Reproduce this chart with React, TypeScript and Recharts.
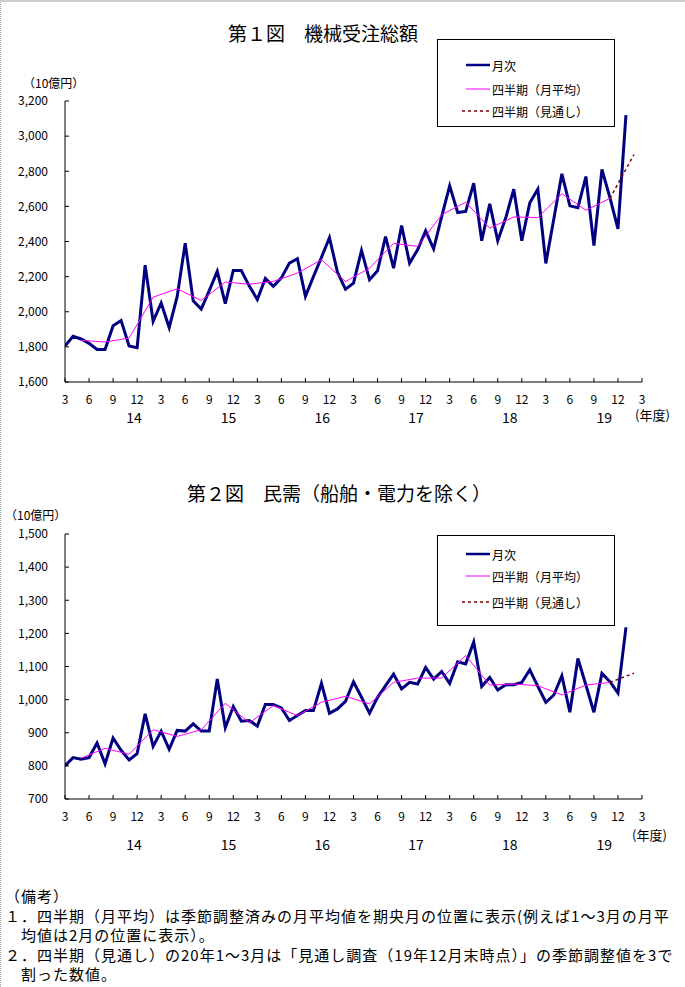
import { Legend, Line, LineChart, XAxis, YAxis } from "recharts";

const FONT = "'Noto Sans CJK JP', 'Noto Sans', sans-serif";

// x index: 0 = 2014年3月 ... 72 = 2020年3月
const monthTicks = [0, 3, 6, 9, 12, 15, 18, 21, 24, 27, 30, 33, 36, 39, 42, 45, 48, 51, 54, 57, 60, 63, 66, 69, 72];
const fiscalYears = ["14", "15", "16", "17", "18", "19"];
const fiscalYearPos = [8.6, 20.4, 32.1, 43.8, 55.5, 67.3];

const seriesNames = ["月次", "四半期（月平均）", "四半期（見通し）"];

const totalMonthly = [
  1805, 1860, 1845, 1820, 1785, 1785, 1920, 1950, 1805, 1795, 2265, 1945,
  2050, 1910, 2087, 2390, 2062, 2015, 2120, 2230, 2046, 2235, 2235, 2146,
  2070, 2190, 2145, 2193, 2277, 2302, 2088, 2200, 2310, 2422, 2225, 2128,
  2163, 2349, 2182, 2233, 2428, 2248, 2491, 2277, 2353, 2461, 2358, 2542,
  2717, 2565, 2571, 2732, 2404, 2614, 2404, 2535, 2698, 2404, 2620, 2698,
  2275, 2530, 2785, 2603, 2593, 2770, 2377, 2810, 2650, 2472, 3120
];
const totalQuarterly = [
  1837, 1828, 1850, 2083, 2131, 2064, 2169, 2157, 2173, 2220, 2296, 2172,
  2248, 2390, 2372, 2552, 2624, 2476, 2540, 2536, 2672, 2578, 2646
];
const totalOutlook = [2646, 2895];
const totalYTicks = [1600, 1800, 2000, 2200, 2400, 2600, 2800, 3000, 3200];

const privateMonthly = [
  800, 825, 820, 825, 869, 806, 884, 847, 818, 837, 957, 859,
  905, 850, 907, 905, 927, 905, 905, 1062, 915, 979, 935, 937,
  920, 985, 985, 975, 937, 952, 967, 967, 1049, 959, 972, 995,
  1054, 1007, 959, 1007, 1042, 1077, 1032, 1052, 1047, 1097, 1062, 1085,
  1049, 1114, 1108, 1174, 1040, 1067, 1029, 1045, 1045, 1052, 1090, 1040,
  992, 1014, 1072, 962, 1124, 1044, 962, 1079, 1054, 1020, 1218
];
const privateQuarterly = [
  823, 853, 835, 909, 889, 909, 989, 930, 982, 952, 992, 1010,
  987, 1052, 1065, 1065, 1133, 1044, 1047, 1042, 1014, 1044, 1052
];
const privateOutlook = [1052, 1080];
const privateYTicks = [700, 800, 900, 1000, 1100, 1200, 1300, 1400, 1500];

const notes = [
  "（備考）",
  "１．四半期（月平均）は季節調整済みの月平均値を期央月の位置に表示(例えば1～3月の月平",
  "　均値は2月の位置に表示）。",
  "２．四半期（見通し）の20年1～3月は「見通し調査（19年12月末時点）」の季節調整値を3で",
  "　割った数値。"
];

type Row = { i: number; monthly: number | null; quarterly: number | null; outlook: number | null };

function buildRows(monthly: number[], quarterly: number[], outlook: number[]): Row[] {
  const lastQ = 2 + 3 * (quarterly.length - 1);
  return Array.from({ length: 73 }, (_, i) => ({
    i,
    monthly: i < monthly.length ? monthly[i] : null,
    quarterly: i >= 2 && (i - 2) % 3 === 0 && (i - 2) / 3 < quarterly.length ? quarterly[(i - 2) / 3] : null,
    outlook: i === lastQ ? outlook[0] : i === lastQ + 3 ? outlook[1] : null
  }));
}

function monthLabel(value: number) {
  return String(((value + 2) % 12) + 1);
}

function LegendBox({ payload, rowTops, height }: { payload?: any[]; rowTops: number[]; height: number }) {
  // keep the series order (月次 first), whatever order the legend hands over
  const items = seriesNames
    .map((name) => (payload ?? []).find((entry) => entry.value === name))
    .filter(Boolean);
  return (
    <div style={{ width: 176, height, border: "1px solid #000", background: "#fff", position: "relative", fontFamily: FONT, fontSize: 12, color: "#000" }}>
      {items.map((entry, k) => {
        const dash = entry.payload?.strokeDasharray;
        const width = entry.payload?.strokeWidth ?? 1;
        return (
          <div key={k} style={{ position: "absolute", left: dash ? 24 : 28, top: rowTops[k] - 8, height: 16, display: "flex", alignItems: "center", whiteSpace: "nowrap" }}>
            <svg width={dash ? 28 : 24} height={6} style={{ marginRight: 2 }}>
              <line x1={0} y1={3} x2={dash ? 28 : 24} y2={3} stroke={entry.color} strokeWidth={Math.min(width, 2.5)} strokeDasharray={dash} />
            </svg>
            <span>{entry.value}</span>
          </div>
        );
      })}
    </div>
  );
}

function Panel({
  rows,
  yDomain,
  yTicks,
  height,
  marginTop,
  marginBottom,
  fyMargin,
  legendTop,
  legendHeight,
  legendRows
}: {
  rows: Row[];
  yDomain: [number, number];
  yTicks: number[];
  height: number;
  marginTop: number;
  marginBottom: number;
  fyMargin: number;
  legendTop: number;
  legendHeight: number;
  legendRows: number[];
}) {
  return (
    <LineChart width={685} height={height} data={rows} margin={{ top: marginTop, right: 43, bottom: marginBottom, left: 5 }} style={{ fontFamily: FONT }}>
      <XAxis
        xAxisId="xm"
        dataKey="i"
        type="number"
        domain={[0, 72]}
        allowDataOverflow
        ticks={monthTicks}
        interval={0}
        height={24}
        tickSize={-4}
        tickMargin={17}
        tickFormatter={monthLabel}
        axisLine={{ stroke: "#000" }}
        tickLine={{ stroke: "#000" }}
        tick={{ fontSize: 12, fill: "#000", fontFamily: FONT }}
      />
      <XAxis
        xAxisId="xy"
        dataKey="i"
        type="number"
        domain={[0, 72]}
        allowDataOverflow
        ticks={fiscalYearPos}
        interval={0}
        height={30}
        tickSize={0}
        tickMargin={fyMargin}
        tickFormatter={(v) => fiscalYears[fiscalYearPos.indexOf(Number(v))] ?? ""}
        axisLine={false}
        tickLine={false}
        tick={{ fontSize: 14, fill: "#000", fontFamily: FONT }}
      />
      <YAxis
        yAxisId="v"
        type="number"
        domain={yDomain}
        ticks={yTicks}
        interval={0}
        width={60}
        tickSize={-4}
        tickMargin={21}
        tickFormatter={(v) => Number(v).toLocaleString("en-US")}
        axisLine={{ stroke: "#000" }}
        tickLine={{ stroke: "#000" }}
        tick={{ fontSize: 12, fill: "#000", fontFamily: FONT }}
      />
      <Legend
        layout="horizontal"
        verticalAlign="middle"
        align="center"
        wrapperStyle={{ left: 437, top: legendTop, width: 178, height: legendHeight + 2 }}
        content={(props: any) => <LegendBox payload={props.payload} rowTops={legendRows} height={legendHeight} />}
      />
      <Line xAxisId="xm" yAxisId="v" type="linear" dataKey="monthly" name={seriesNames[0]} stroke="#000080" strokeWidth={3} dot={false} activeDot={false} isAnimationActive={false} />
      <Line xAxisId="xm" yAxisId="v" type="linear" dataKey="quarterly" name={seriesNames[1]} stroke="#ff00ff" strokeWidth={1} dot={false} activeDot={false} connectNulls isAnimationActive={false} />
      <Line xAxisId="xm" yAxisId="v" type="linear" dataKey="outlook" name={seriesNames[2]} stroke="#800000" strokeWidth={1.5} strokeDasharray="3 3" dot={false} activeDot={false} connectNulls isAnimationActive={false} />
    </LineChart>
  );
}

const textBase = { position: "absolute" as const, fontFamily: FONT, color: "#000", whiteSpace: "pre" as const };

export default function App() {
  const totalRows = buildRows(totalMonthly, totalQuarterly, totalOutlook);
  const privateRows = buildRows(privateMonthly, privateQuarterly, privateOutlook);
  return (
    <div style={{ position: "absolute", left: 0, top: 0, width: 685, height: 987, background: "#fff", overflow: "hidden", borderTop: "2px solid #cfcfcf", borderLeft: "1px dotted #a0a0a0", boxSizing: "border-box" }}>
      <div style={{ position: "absolute", left: -1, top: -2 }}>
        <Panel rows={totalRows} yDomain={[1600, 3200]} yTicks={totalYTicks} height={440} marginTop={101} marginBottom={4} fyMargin={7} legendTop={39} legendHeight={86} legendRows={[25, 49, 71]} />
      </div>
      <div style={{ position: "absolute", left: -1, top: 458 }}>
        <Panel rows={privateRows} yDomain={[700, 1500]} yTicks={privateYTicks} height={400} marginTop={74} marginBottom={7} fyMargin={17} legendTop={75} legendHeight={89} legendRows={[18, 40, 66]} />
      </div>

      <div style={{ ...textBase, left: 227, top: 20, fontSize: 19, lineHeight: "22px" }}>第１図　機械受注総額</div>
      <div style={{ ...textBase, left: 186, top: 480, fontSize: 19, lineHeight: "22px" }}>第２図　民需（船舶・電力を除く）</div>

      <div style={{ ...textBase, left: 22, top: 74, fontSize: 12, lineHeight: "13px", height: 13 }}>（10億円）</div>
      <div style={{ ...textBase, left: 4, top: 506, fontSize: 12, lineHeight: "13px", height: 13 }}>（10億円）</div>

      <div style={{ ...textBase, left: 634, top: 405, fontSize: 13, lineHeight: "16px" }}>(年度)</div>
      <div style={{ ...textBase, left: 631, top: 825, fontSize: 13, lineHeight: "16px" }}>(年度)</div>

      {notes.map((line, k) => (
        <div key={k} style={{ ...textBase, left: 4, top: 885 + k * 19.5, fontSize: 15, lineHeight: "17px", height: 17, letterSpacing: 1 }}>
          {line}
        </div>
      ))}
    </div>
  );
}
